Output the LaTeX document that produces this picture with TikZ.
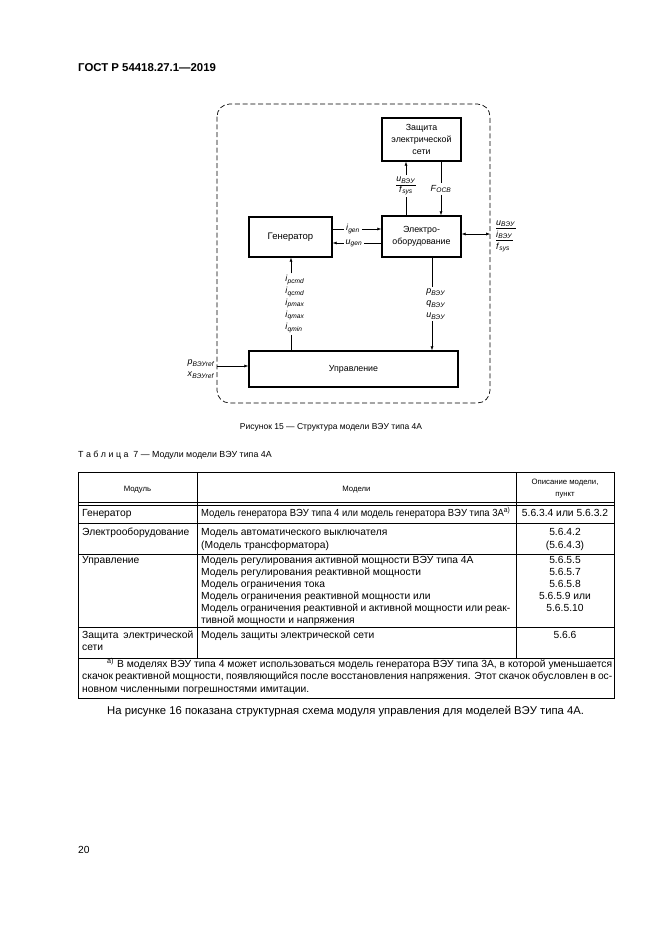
\documentclass[tikz,border=0pt]{standalone}
\usepackage{fontspec}
\setmainfont{Liberation Sans}
\usetikzlibrary{arrows.meta}
\newcommand\pxl{0.3177mm}
\newcommand\vlab[2]{\textit{#1}\textsubscript{\textit{#2}}}
\begin{document}
\begin{tikzpicture}[x=0.3177mm,y=-0.3177mm,
  box/.style={draw, line width=1.4pt, align=center, inner sep=0,
    font=\fontsize{8}{10.8}\selectfont},
  lab/.style={font=\fontsize{8}{10.8}\selectfont, inner sep=1.5pt},
  arr/.style={-{Latex[length=3.5pt,width=2.8pt]}, line width=0.5pt},
  ln/.style={line width=0.5pt},
  tx/.style={inner sep=0, font=\fontsize{9.3}{10}\selectfont, text height=6.6pt, text depth=2pt},
  th/.style={inner sep=0, font=\fontsize{7}{10.8}\selectfont, align=center},
  tl/.style={line width=0.6pt},
]
\useasboundingbox (0,0) rectangle (661,935);

% header
\node[anchor=west, inner sep=0, font=\bfseries\fontsize{10.3}{11}\selectfont] (hdr) at (78,68) {ГОСТ Р 54418.27.1—2019};

% dashed frame
\draw[dashed, dash pattern=on 4.5pt off 2.5pt, line width=0.6pt, rounded corners=4mm] (217,104) rectangle (490,403);
\coordinate (rin) at (490,234);
\coordinate (lin) at (217,366);

% boxes
\node[box, minimum width={79*\pxl}, minimum height={43*\pxl}] (prot) at (421.5,139.5) {Защита\\электрической\\сети};
\node[box, minimum width={79*\pxl}, minimum height={41*\pxl}] (elec) at (421.5,236.5) {Электро-\\оборудование};
\node[box, minimum width={83*\pxl}, minimum height={40*\pxl}, font=\fontsize{8.6}{10.8}\selectfont] (gen) at (290.5,237) {Генератор};
\node[box, minimum width={209*\pxl}, minimum height={36*\pxl}] (ctrl) at (353.5,369) {Управление};

% elec -> prot
\node[lab, align=center] (lA) at (406,186) {\underline{\vlab{u}{ВЭУ}}\\[-1pt]\vlab{f}{sys}};
\draw[ln] (elec.north -| lA) -- (lA.south);
\draw[arr] (lA.north) -- (lA.north |- prot.south);
% prot -> elec
\node[lab] (lB) at (441,189) {\vlab{F}{OCB}};
\draw[ln] (prot.south -| lB) -- (lB.north);
\draw[arr] (lB.south) -- (lB.south |- elec.north);

% gen <-> elec
\node[lab] (lig) at (353,229) {\vlab{i}{gen}};
\draw[ln] (gen.east |- lig) -- (lig.west);
\draw[arr] (lig.east) -- (lig.east -| elec.west);
\node[lab] (lug) at (354,243) {\vlab{u}{gen}};
\draw[ln] (elec.west |- lug) -- (lug.east);
\draw[arr] (lug.west) -- (lug.west -| gen.east);

% elec <-> outside
\draw[{Latex[length=3.5pt,width=2.8pt]}-{Latex[length=3.5pt,width=2.8pt]}, line width=0.5pt] (elec.east |- rin) -- (rin);
\node[lab, anchor=west, align=left, inner sep=0] (lr) at (496,236) {\underline{\vlab{u}{ВЭУ}}\\\underline{\vlab{i}{ВЭУ}}\\\vlab{f}{sys}};

% ctrl -> gen
\coordinate (cg) at (291,0);
\node[lab, align=left] (lgi) at (295,304) {\vlab{i}{pcmd}\\\vlab{i}{qcmd}\\\vlab{i}{pmax}\\\vlab{i}{qmax}\\\vlab{i}{qmin}};
\draw[arr] (cg |- lgi.north) -- (cg |- gen.south);
\draw[ln] (cg |- ctrl.north) -- (cg |- lgi.south);

% elec -> ctrl
\coordinate (ce) at (432,0);
\node[lab, align=left] (lpq) at (436,304) {\vlab{p}{ВЭУ}\\\vlab{q}{ВЭУ}\\\vlab{u}{ВЭУ}};
\draw[ln] (ce |- elec.south) -- (ce |- lpq.north);
\draw[arr] (ce |- lpq.south) -- (ce |- ctrl.north);

% input -> ctrl
\draw[arr] (lin) -- (lin -| ctrl.west);
\node[lab, anchor=east, align=left, inner sep=0] (lref) at (215,369) {\vlab{p}{ВЭУref}\\\vlab{x}{ВЭУref}};

% caption
\node[tx, font=\fontsize{7.7}{10}\selectfont] (cap) at (331,427) {Рисунок 15 — Структура модели ВЭУ типа 4А};
\node[tx, anchor=west, font=\fontsize{8}{10}\selectfont] (ttl) at (78,455) {Т а б л и ц а\ \ 7 — Модули модели ВЭУ типа 4А};

% table lines
\draw[tl] (78,472) rectangle (614,698);
\draw[tl] (197,472) -- (197,658);
\draw[tl] (516,472) -- (516,658);
\draw[tl] (78,502) -- (614,502);
\draw[tl] (78,505) -- (614,505);
\draw[tl] (78,523) -- (614,523);
\draw[tl] (78,554) -- (614,554);
\draw[tl] (78,627) -- (614,627);
\draw[tl] (78,658) -- (614,658);

% table header
\node[th] (h1) at (137.5,490) {Модуль};
\node[th] (h2) at (356.5,490) {Модели};
\node[th] (h3) at (565,489) {Описание модели,\\пункт};

% rows
\node[tx, anchor=west] (r1a) at (82,514) {Генератор};
\node[tx, anchor=west] (r1b) at (201,514) {\resizebox{98.2mm}{\height}{Модель генератора ВЭУ типа 4 или модель генератора ВЭУ типа 3А\textsuperscript{а)}}};
\node[tx] (r1c) at (565,514) {5.6.3.4 или 5.6.3.2};

\node[tx, anchor=west] (r2a) at (82,533) {Электрооборудование};
\node[tx, anchor=west] (r2b) at (201,533) {Модель автоматического выключателя};
\node[tx, anchor=west] (r2b2) at (201,546) {(Модель трансформатора)};
\node[tx] (r2c) at (565,533) {5.6.4.2};
\node[tx] (r2c2) at (565,546) {(5.6.4.3)};

\node[tx, anchor=west] (r3a) at (82,561) {Управление};
\node[tx, anchor=west] (r3b1) at (201,561) {Модель регулирования активной мощности ВЭУ типа 4А};
\node[tx, anchor=west] (r3b2) at (201,573) {Модель регулирования реактивной мощности};
\node[tx, anchor=west] (r3b3) at (201,585) {Модель ограничения тока};
\node[tx, anchor=west] (r3b4) at (201,597) {Модель ограничения реактивной мощности или};
\node[tx, anchor=west] (r3b5) at (201,609) {\makebox[98.2mm][s]{Модель ограничения реактивной и активной мощности или реак-}};
\node[tx, anchor=west] (r3b6) at (201,621) {тивной мощности и напряжения};
\node[tx] (r3c1) at (565,561) {5.6.5.5};
\node[tx] (r3c2) at (565,573) {5.6.5.7};
\node[tx] (r3c3) at (565,585) {5.6.5.8};
\node[tx] (r3c4) at (565,597) {5.6.5.9 или};
\node[tx] (r3c5) at (565,609) {5.6.5.10};

\node[tx, anchor=west] (r4a) at (82,636) {\makebox[35.3mm][s]{Защита электрической}};
\node[tx, anchor=west] (r4a2) at (82,648) {сети};
\node[tx, anchor=west] (r4b) at (201,636) {Модель защиты электрической сети};
\node[tx] (r4c) at (565,636) {5.6.6};

% footnote
\node[tx, anchor=west] (f1) at (107,665) {\makebox[160.4mm][s]{\textsuperscript{а)} В моделях ВЭУ типа 4 может использоваться модель генератора ВЭУ типа 3А, в которой уменьшается}};
\node[tx, anchor=west] (f2) at (82,677) {\makebox[168.4mm][s]{скачок реактивной мощности, появляющийся после восстановления напряжения. Этот скачок обусловлен в ос-}};
\node[tx, anchor=west] (f3) at (82,690) {новном численными погрешностями имитации.};

% paragraph
\node[tx, anchor=west, font=\fontsize{10.2}{12}\selectfont] (par) at (107,712) {На рисунке 16 показана структурная схема модуля управления для моделей ВЭУ типа 4А.};

\node[tx, anchor=west] (pg) at (78,851) {20};
\end{tikzpicture}
\end{document}
